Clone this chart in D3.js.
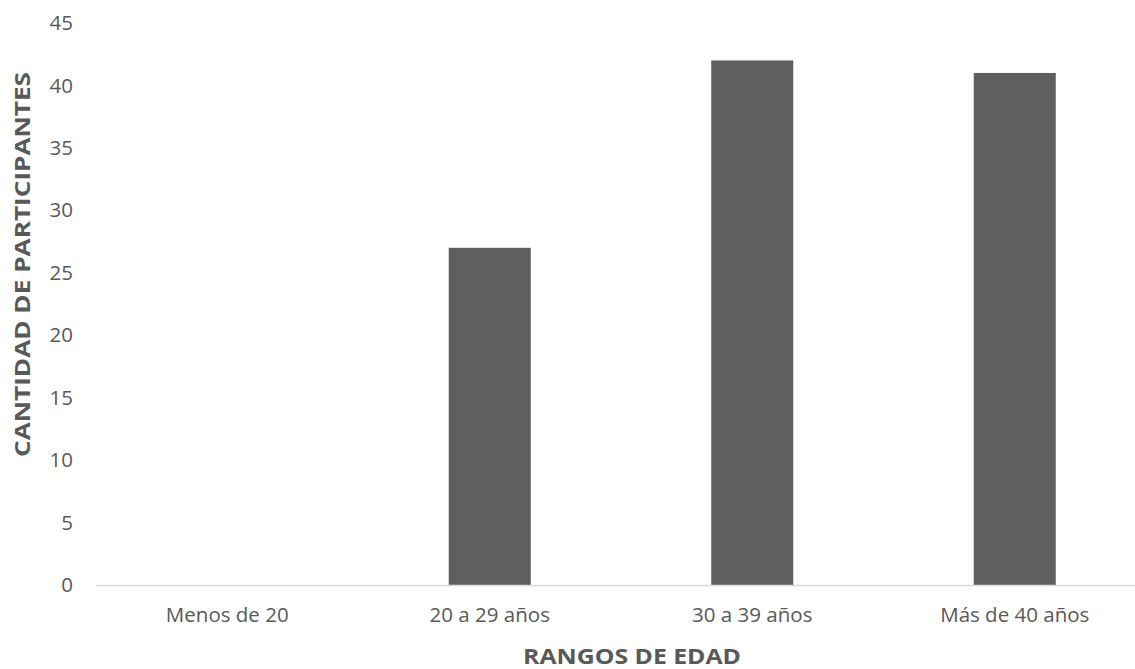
<!DOCTYPE html>
<html><head><meta charset="utf-8">
<script src="https://cdn.jsdelivr.net/npm/d3@7"></script>
<style>body{margin:0;background:#fff}svg{display:block}</style>
</head><body>
<svg id="c" width="1135" height="669"></svg>
<script>
const categories = ["Menos de 20", "20 a 29 años", "30 a 39 años", "Más de 40 años"];
const values = [0, 27, 42, 41];
const yTicks = [0, 5, 10, 15, 20, 25, 30, 35, 40, 45];
const yTitle = "CANTIDAD DE PARTICIPANTES";
const xTitle = "RANGOS DE EDAD";

(function () {
const svg = d3.select("#c");
const mLeft = 96, mRight = 1146, mTop = 23, mBottom = 585;
const font = "'Open Sans', sans-serif";
const x = d3.scaleBand().domain(categories).range([mLeft, mRight]).paddingInner(0.6876).paddingOuter(0.3438);
const y = d3.scaleLinear().domain([0, 45]).range([mBottom, mTop]);

svg.selectAll("rect.bar").data(values).enter().append("rect")
  .attr("class", "bar")
  .attr("x", (d, i) => x(categories[i]))
  .attr("width", x.bandwidth())
  .attr("y", d => y(d))
  .attr("height", d => y(0) - y(d))
  .attr("fill", "#5f5f5f");

const yAxis = svg.append("g").attr("transform", `translate(${mLeft},0)`)
  .call(d3.axisLeft(y).tickValues(yTicks).tickSize(0).tickPadding(23));
yAxis.select(".domain").remove();
yAxis.selectAll("text").attr("font-family", font).attr("font-size", 20.5).attr("fill", "#595959");

const xAxis = svg.append("g").attr("transform", `translate(0,${mBottom})`)
  .call(d3.axisBottom(x).tickSize(0).tickPadding(22));
xAxis.select(".domain").attr("stroke", "#d9d9d9").attr("stroke-width", 1.5);
xAxis.selectAll("text").attr("font-family", font).attr("font-size", 20.5).attr("fill", "#595959");

svg.append("text").attr("x", 632).attr("y", 664).attr("text-anchor", "middle")
  .attr("font-family", font).attr("font-weight", "bold").attr("font-size", 21.5).attr("fill", "#595959")
  .attr("textLength", 218).attr("lengthAdjust", "spacingAndGlyphs")
  .text(xTitle);
svg.append("text").attr("transform", `translate(30,264.5) rotate(-90)`)
  .attr("text-anchor", "middle")
  .attr("font-family", font).attr("font-weight", "bold").attr("font-size", 22).attr("fill", "#595959")
  .attr("textLength", 385).attr("lengthAdjust", "spacingAndGlyphs")
  .text(yTitle);
})();
</script>
</body></html>
